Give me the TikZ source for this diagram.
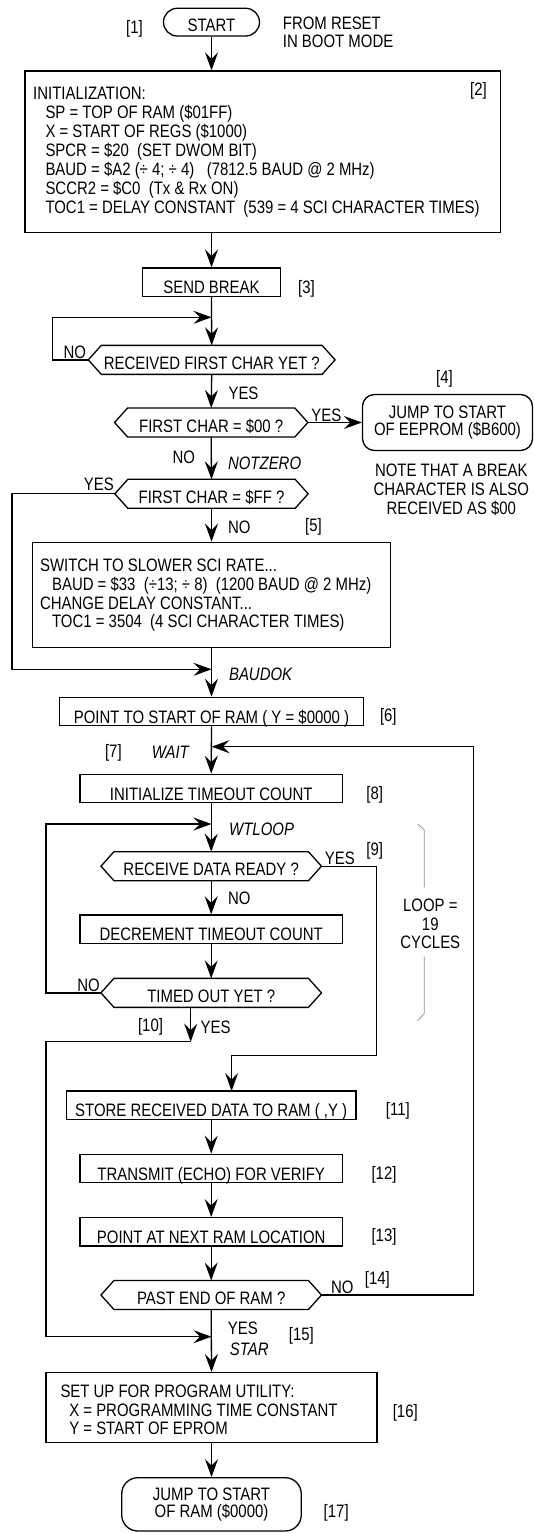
\documentclass[tikz,border=0pt]{standalone}
\usepackage{fontspec}
\setmainfont{Liberation Sans}[FakeStretch=0.83]
\usetikzlibrary{arrows.meta}
\newcommand\ff{\fontsize{18}{18.7}\selectfont}
\tikzset{
  ln/.style={line width=1.3pt},
  arr/.style={ln, -{Stealth[length=18pt,width=13pt,inset=6.5pt]}},
  rbox/.style={draw, ln, inner sep=0pt, text height=25.95pt, text depth=2.45pt},
  hexin/.style={inner sep=0pt, text height=23.95pt, text depth=4.65pt, minimum height=28.6pt},
  plainbox/.style={draw, ln, inner sep=0pt},
  term/.style={draw, ln, inner sep=0pt, align=center},
  lbl/.style={inner sep=0pt, text height=12.9pt, text depth=0pt},
  itl/.style={lbl, font=\ff\itshape},
  txt/.style={inner sep=0pt, anchor=base west},
  ctxt/.style={inner sep=0pt, anchor=base},
  brk/.style={draw=black!45, line width=0.7pt}
}
\newcommand\hexd[5]{%
  \node[hexin, minimum width=#4pt] (#1) at (#2,#3) {#5};
  \draw[ln] (#1.north west) -- (#1.north east) -- ([xshift=13pt]#1.east) coordinate (#1R)
    -- (#1.south east) -- (#1.south west) -- ([xshift=-13pt]#1.west) coordinate (#1L) -- cycle;}
\begin{document}
\begin{tikzpicture}[x=1pt,y=-1pt, every node/.append style={font=\ff}]
\useasboundingbox (0,0) rectangle (534,1533);

% ---- start
\node[term, rounded corners=13.8pt, minimum width=96pt, minimum height=27.7pt, text height=23.5pt, text depth=4.2pt] (st) at (211.5,22.15) {START};
\node[lbl] (n1) at (134.5,27) {[1]};
\node[txt] (fromreset) at (282.7,29.15) {\begin{tabular}[t]{@{}l@{}}FROM RESET\\IN BOOT MODE\end{tabular}};

% ---- init box
\node[plainbox, minimum width=475.8pt, minimum height=161.7pt] (b2) at (262.8,151.85) {};
\node[txt] (b2t) at (33,99.75) {\begin{tabular}[t]{@{}l@{}}
INITIALIZATION:\\
\hspace*{12.3pt}SP = TOP OF RAM (\$01FF)\\
\hspace*{12.3pt}X = START OF REGS (\$1000)\\
\hspace*{12.3pt}SPCR = \$20\ \ (SET DWOM BIT)\\
\hspace*{12.3pt}BAUD = \$A2 (÷ 4; ÷ 4)\ \ \ (7812.5 BAUD @ 2 MHz)\\
\hspace*{12.3pt}SCCR2 = \$C0\ \ (Tx \& Rx ON)\\
\hspace*{12.3pt}TOC1 = DELAY CONSTANT\ \ (539 = 4 SCI CHARACTER TIMES)
\end{tabular}};
\node[lbl] (n2) at (478.5,89.3) {[2]};

% ---- send break
\node[rbox, minimum width=138.3pt] (sb) at (211.5,282.2) {SEND BREAK};
\node[lbl] (n3) at (306.5,286.7) {[3]};

% ---- decisions
\hexd{h1}{211.7}{359.85}{220.4}{RECEIVED FIRST CHAR YET ?}
\node[lbl] (no1) at (74.9,351.7) {NO};
\node[lbl] (yes1) at (243.5,393.3) {YES};

\hexd{h2}{211.2}{422.5}{166.9}{FIRST CHAR = \$00 ?}
\node[lbl] (yes2) at (326.3,415) {YES};
\node[term, rounded corners=12pt, minimum width=170pt, minimum height=56pt] (jmp) at (447.5,422.5) {JUMP TO START\\[-1pt]OF EEPROM (\$B600)};
\node[lbl] (n4) at (444.5,377.3) {[4]};
\node[ctxt] (note) at (451.3,476.45) {\begin{tabular}[t]{@{}c@{}}NOTE THAT A BREAK\\CHARACTER IS ALSO\\RECEIVED AS \$00\end{tabular}};
\node[lbl] (no2) at (183.9,456.7) {NO};
\node[itl] (notzero) at (264.6,463.3) {NOTZERO};

\hexd{h3}{211.5}{493.8}{166.9}{FIRST CHAR = \$FF ?}
\node[lbl] (yes3) at (98.8,484) {YES};
\node[lbl] (no3) at (239.4,526.7) {NO};
\node[lbl] (n5) at (313.4,525) {[5]};

% ---- slower rate box
\node[plainbox, minimum width=358.3pt, minimum height=105.4pt] (b5) at (211.5,595) {};
\node[txt] (b5t) at (39.9,571.45) {\begin{tabular}[t]{@{}l@{}}
SWITCH TO SLOWER SCI RATE...\\
\hspace*{12pt}BAUD = \$33\ \ (÷13; ÷ 8)\ \ (1200 BAUD @ 2 MHz)\\
CHANGE DELAY CONSTANT...\\
\hspace*{12pt}TOC1 = 3504\ \ (4 SCI CHARACTER TIMES)
\end{tabular}};

\node[itl] (baudok) at (260.6,674.3) {BAUDOK};
\node[rbox, minimum width=303.8pt] (b6) at (211.5,711.5) {POINT TO START OF RAM ( Y = \$0000 )};
\node[lbl] (n6) at (388.3,715) {[6]};
\node[lbl] (n7) at (113.4,750.7) {[7]};
\node[itl] (wait) at (170.3,751.7) {WAIT};

\node[rbox, minimum width=262.3pt] (b8) at (211.2,788.5) {INITIALIZE TIMEOUT COUNT};
\node[lbl] (n8) at (374.7,792.7) {[8]};
\node[itl] (wtloop) at (261.6,829.3) {WTLOOP};

\hexd{h4}{211.2}{866.2}{194.1}{RECEIVE DATA READY ?}
\node[lbl] (yes4) at (339.9,858.3) {YES};
\node[lbl] (n9) at (374.7,849.3) {[9]};
\node[lbl] (no4) at (239.4,898.3) {NO};

\node[rbox, minimum width=262.3pt] (dec) at (211.2,929.15) {DECREMENT TIMEOUT COUNT};

\hexd{h5}{211.2}{992.85}{194.1}{TIMED OUT YET ?}
\node[lbl] (no5) at (88.6,985) {NO};
\node[lbl] (n10) at (150.5,1025) {[10]};
\node[lbl] (yes5) at (215.6,1026.7) {YES};

% loop bracket
\node[ctxt] (loop) at (430.3,911.45) {\begin{tabular}[t]{@{}c@{}}LOOP =\\19\\CYCLES\end{tabular}};
\draw[brk] (417.7,824) -- (424.3,830) -- (424.3,887.3);
\draw[brk] (424.3,956.7) -- (424.3,1013.3) -- (417.7,1020.7);

\node[rbox, minimum width=289.5pt] (b11) at (211.2,1105.15) {STORE RECEIVED DATA TO RAM ( ,Y )};
\node[lbl] (n11) at (397.8,1109.3) {[11]};
\node[rbox, minimum width=262.3pt] (b12) at (211.2,1168.5) {TRANSMIT (ECHO) FOR VERIFY};
\node[lbl] (n12) at (384,1172.7) {[12]};
\node[rbox, minimum width=262.3pt] (b13) at (211.2,1231.85) {POINT AT NEXT RAM LOCATION};
\node[lbl] (n13) at (384,1235) {[13]};

\hexd{h6}{211.2}{1295}{194.1}{PAST END OF RAM ?}
\node[lbl] (no6) at (342.3,1286.7) {NO};
\node[lbl] (n14) at (377.4,1278.3) {[14]};
\node[lbl] (yes6) at (242.8,1328.3) {YES};
\node[itl] (star) at (249.3,1349.3) {STAR};
\node[lbl] (n15) at (301.4,1334) {[15]};

\node[plainbox, minimum width=331pt, minimum height=70pt] (b16) at (211.5,1407.7) {};
\node[txt] (b16t) at (60.3,1397.45) {\begin{tabular}[t]{@{}l@{}}
SET UP FOR PROGRAM UTILITY:\\
\hspace*{8.8pt}X = PROGRAMMING TIME CONSTANT\\
\hspace*{8.8pt}Y = START OF EPROM
\end{tabular}};
\node[lbl] (n16) at (405.3,1411) {[16]};

\node[term, rounded corners=16pt, minimum width=179.5pt, minimum height=53.3pt] (fin) at (211.5,1504.35) {JUMP TO START\\[-1.4pt]OF RAM (\$0000)};
\node[lbl] (n17) at (336.2,1511) {[17]};

% ---- coordinates for bends and junctions
\coordinate (j1) at (211.5,317.3);
\coordinate (l1) at (52.8,317.3);
\coordinate (j2) at (211.5,669.3);
\coordinate (l2) at (11.9,669.3);
\coordinate (j3) at (211.5,746.7);
\coordinate (l3) at (473.4,746.7);
\coordinate (j4) at (211.5,824);
\coordinate (l4) at (46,824);
\coordinate (c10) at (190.7,1041.7);
\coordinate (j5) at (211.5,1336.7);
\coordinate (l5) at (46,1336.7);
\coordinate (k1) at (376.4,1055.7);
\coordinate (k2) at (231.6,1091);

% ---- connectors
\draw[arr] (st.south) -- (st.south |- b2.north);
\draw[arr] (sb.north |- b2.south) -- (sb.north);
\draw[arr] (sb.south) -- (h1.north);
\draw[arr] (h1L) -| (l1) -- (j1);
\draw[arr] (h1.south) -- (h2.north);
\draw[arr] (h2R) -- (jmp.west);
\draw[arr] (h2.south) -- (h3.north);
\draw[arr] (h3.south) -- (b5.north);
\draw[arr] (h3L) -| (l2) -- (j2);
\draw[arr] (b5.south) -- (b6.north);
\draw[arr] (b6.south) -- (b8.north);
\draw[arr] (h6R) -| (l3) -- (j3);
\draw[arr] (b8.south) -- (h4.north);
\draw[arr] (h4.south) -- (dec.north);
\draw[arr] (dec.south) -- (h5.north);
\draw[arr] (h5L) -| (l4) -- (j4);
\draw[arr] (c10 |- h5.south) -- (c10);
\draw[arr] (c10) -| (l5) -- (j5);
\draw[arr] (h4R) -| (k1) -| (k2);
\draw[arr] (b11.south) -- (b12.north);
\draw[arr] (b12.south) -- (b13.north);
\draw[arr] (b13.south) -- (h6.north);
\draw[arr] (h6.south) -- (b16.north);
\draw[arr] (b16.south) -- (fin.north);
\end{tikzpicture}
\end{document}
